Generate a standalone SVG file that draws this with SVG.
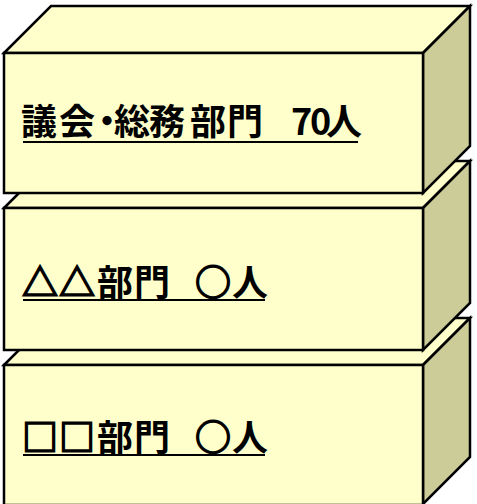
<svg xmlns="http://www.w3.org/2000/svg" width="477" height="504" viewBox="0 0 477 504">
<style>
.face{fill:#FFFFCC;stroke:#000;stroke-width:2.5;stroke-linejoin:miter}
.side{fill:#CCCC99;stroke:#000;stroke-width:2.5;stroke-linejoin:miter}
.lbl{font-family:"Noto Sans CJK JP","Noto Sans",sans-serif;font-weight:bold;font-size:36px;fill:#000}
.sym{stroke:#000;stroke-width:1.6}
.ul{stroke:#000;stroke-width:2}
</style>
<rect width="477" height="504" fill="#fff"/>
<g id="node3">
<polygon class="face" points="4,365 51,318 470,318 423,365"/>
<polygon class="side" points="423,365 470,318 470,457 423,504"/>
<rect class="face" x="4" y="365" width="419" height="140"/>
<text class="lbl" y="451"><tspan class="sym" x="22 59">□□</tspan><tspan x="97 134 172">部門 </tspan><tspan class="sym" x="195">○</tspan><tspan x="232">人</tspan></text>
<line class="ul" x1="23" y1="455" x2="265" y2="455"/>
</g>
<g id="node2">
<polygon class="face" points="4,208 51,161 470,161 423,208"/>
<polygon class="side" points="423,208 470,161 470,303 423,350"/>
<rect class="face" x="4" y="208" width="419" height="142"/>
<text class="lbl" y="296"><tspan class="sym" x="22 59">△△</tspan><tspan x="97 134 172">部門 </tspan><tspan class="sym" x="195">○</tspan><tspan x="232">人</tspan></text>
<line class="ul" x1="23" y1="300" x2="265" y2="300"/>
</g>
<g id="node1">
<polygon class="face" points="4,53 51,6 470,6 423,53"/>
<polygon class="side" points="423,53 470,6 470,146 423,193"/>
<rect class="face" x="4" y="53" width="419" height="140"/>
<text class="lbl" x="21 59 89 114 149 190 227 266 291 310 326" y="135">議会・総務部門 70人</text>
<line class="ul" x1="23" y1="142" x2="358" y2="142"/>
</g>
<g id="connectors"/>
</svg>
